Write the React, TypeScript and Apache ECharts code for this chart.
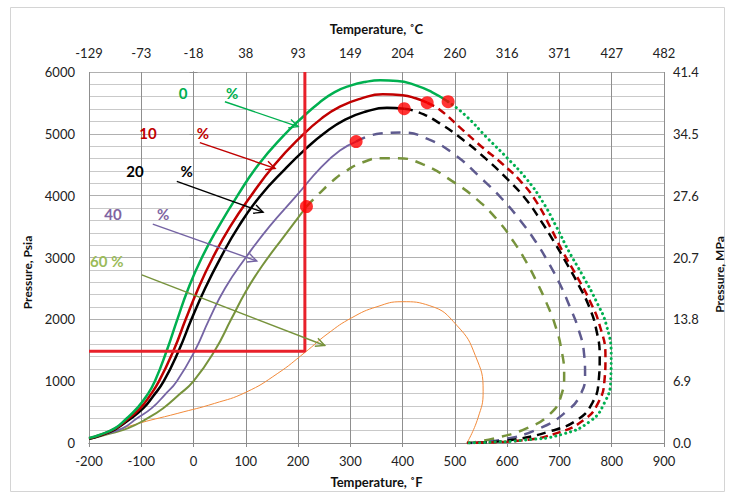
import React, { useEffect, useRef } from "react";
import * as echarts from "echarts";

// Top axis (°C) tick labels, matching the °F ticks -200..900
const celsiusTicks = ["-129", "-73", "-18", "38", "93", "149", "204", "260", "316", "371", "427", "482"];

// 0 % curve
const c0Bubble = [
  [-200, 80], [-180, 130], [-150, 241], [-130, 380], [-108, 563], [-90, 760], [-74, 1000], [-51, 1500],
  [-31, 2000], [-10, 2500], [16, 3000], [48, 3500], [84, 4000], [124, 4500], [170, 4950], [210, 5280],
  [240, 5500], [270, 5675], [300, 5780], [330, 5842], [357, 5865], [390, 5855], [420, 5800], [455, 5680],
  [487, 5519],
];
const c0Dew = [
  [487, 5519], [520, 5300], [560, 4950], [600, 4610], [637, 4270], [668, 3900], [694, 3500], [718, 3100],
  [745, 2700], [770, 2300], [790, 1900], [799, 1400], [798, 1000], [786, 650], [760, 360], [705, 140],
  [630, 45], [560, 10], [523, 0],
];
// 10 % curve
const c10Bubble = [
  [-200, 75], [-180, 125], [-150, 232], [-128, 370], [-102, 563], [-84, 760], [-66, 1000], [-38, 1500],
  [-15, 2000], [9, 2500], [37, 3000], [70, 3500], [110, 4000], [155, 4500], [205, 4950], [245, 5250],
  [280, 5440], [320, 5570], [362, 5640], [400, 5625], [425, 5575], [447, 5503],
];
const c10Dew = [
  [447, 5503], [471, 5390], [510, 5100], [550, 4800], [590, 4520], [627, 4220], [656, 3900], [682, 3500],
  [706, 3100], [733, 2700], [758, 2300], [777, 1900], [788, 1400], [786, 1000], [774, 650], [748, 380],
  [695, 160], [620, 35], [560, 8], [523, 0],
];
// 20 % curve
const c20Bubble = [
  [-200, 70], [-180, 118], [-150, 222], [-126, 360], [-96, 563], [-77, 760], [-57, 1000], [-28, 1500],
  [-4, 2000], [22, 2500], [52, 3000], [86, 3500], [128, 4000], [175, 4430], [215, 4760], [250, 5010],
  [290, 5230], [330, 5360], [370, 5420], [403, 5406],
];
const c20Dew = [
  [403, 5406], [430, 5350], [471, 5170], [516, 4900], [560, 4590], [600, 4270], [635, 3950], [664, 3600],
  [690, 3250], [714, 2900], [737, 2550], [757, 2200], [770, 1850], [777, 1400], [775, 1000], [763, 650],
  [735, 380], [682, 190], [605, 45], [550, 8], [523, 0],
];
// 40 % curve
const c40Bubble = [
  [-200, 65], [-170, 140], [-135, 241], [-108, 400], [-80, 563], [-55, 780], [-32, 1000], [3, 1500],
  [30, 2000], [60, 2500], [100, 3000], [145, 3500], [197, 4000], [243, 4450], [280, 4730], [311, 4875],
];
const c40Dew = [
  [311, 4875], [357, 5004], [399, 5020], [450, 4910], [500, 4660], [548, 4300], [590, 3950], [625, 3600],
  [655, 3250], [680, 2900], [702, 2550], [720, 2200], [736, 1850], [747, 1450], [749, 1100], [740, 780],
  [714, 515], [663, 241], [586, 48], [523, 0],
];
// 60 % curve
const c60Bubble = [
  [-200, 60], [-165, 140], [-125, 241], [-90, 390], [-58, 563], [-28, 780], [0, 1000], [41, 1500],
  [72, 2000], [100, 2450], [130, 2850], [172, 3330], [216, 3824],
];
const c60Dew = [
  [216, 3824], [240, 4030], [265, 4230], [290, 4390], [324, 4540], [360, 4605], [390, 4605], [439, 4505],
  [494, 4240], [542, 3940], [582, 3600], [612, 3260], [637, 2920], [658, 2580], [676, 2250], [692, 1900],
  [704, 1500], [709, 1100], [703, 760], [682, 470], [638, 241], [573, 70], [523, 0],
];
// thin orange envelope
const orangeEnvelope = [
  [-200, 55], [-116, 290], [-30, 480], [40, 640], [100, 820], [160, 1120], [213, 1464], [257, 1770],
  [303, 2027], [351, 2204], [399, 2285], [452, 2220], [504, 1899], [539, 1416], [554, 837], [544, 402],
  [523, 0],
];
// red guide lines and critical points
const redGuide = [[-200, 1485], [213, 1485], [213, 6000]];
const criticalPoints = [[487, 5519], [447, 5503], [403, 5406], [311, 4875], [216, 3824]];

// annotation arrows: [x1, y1, x2, y2]
const arrows = [
  [60, 5519, 200, 5117],
  [12, 4859, 156, 4441],
  [-32, 4232, 133, 3733],
  [-78, 3540, 121, 2944],
  [-99, 2719, 251, 1577],
];
const labelTexts = ["0", "10", "20", "40", "60 %"];
const labelX = [-20, -87, -112, -154, -166];
const labelY = [5664, 5020, 4393, 3701, 2944];
const pctX = [74, 18, -13, -58, null];

const GREEN = "#00b050";
const RED = "#c00000";
const BLACK = "#000000";
const PURPLE = "#7564a4";
const PURPLE_D = "#5e5a8e";
const OLIVE = "#77933c";
const arrowColors = [GREEN, RED, BLACK, PURPLE, OLIVE];
const labelColors = [GREEN, RED, BLACK, "#8064a2", "#9bbb59"];

const FONT = "Lato";

function lineSeries(data: number[][], color: string, width: number, type: any, smooth = 0.5) {
  return {
    type: "line",
    data,
    symbol: "none",
    smooth,
    z: 2,
    lineStyle: { color, width, type, cap: Array.isArray(type) && type[0] < 2 ? "round" : "butt" },
  };
}

export default function App() {
  const ref = useRef<HTMLDivElement>(null);
  useEffect(() => {
    const chart = echarts.init(ref.current!, null, { renderer: "svg" });
    const option: any = {
      animation: false,
      backgroundColor: "#ffffff",
      textStyle: { fontFamily: FONT },
      grid: { left: 89, right: 69, top: 72, bottom: 48 },
      graphic: [
        {
          type: "rect",
          left: 8,
          top: 5,
          shape: { x: 0, y: 0, width: 714, height: 484 },
          style: { fill: "none", stroke: "#d4d4d4", lineWidth: 1 },
          silent: true,
        },
      ],
      xAxis: [
        {
          type: "value",
          position: "bottom",
          min: -200,
          max: 900,
          interval: 100,
          axisLine: { show: true, lineStyle: { color: "#8c8c8c" } },
          axisTick: { show: true, length: 4, lineStyle: { color: "#8c8c8c" } },
          axisLabel: { fontSize: 13, color: "#222", margin: 11, fontFamily: FONT, formatter: (v: number) => String(v) },
          splitLine: { show: true, lineStyle: { color: "#8f8f8f", width: 1 } },
          name: "Temperature, ˚F",
          nameLocation: "middle",
          nameGap: 32,
          nameTextStyle: { fontWeight: "bold", fontSize: 13, color: "#111", fontFamily: FONT },
        },
        {
          type: "value",
          position: "top",
          min: -200,
          max: 900,
          interval: 100,
          axisLine: { show: true, lineStyle: { color: "#8c8c8c" } },
          axisTick: { show: false },
          axisLabel: {
            fontSize: 13,
            color: "#222",
            margin: 13,
            fontFamily: FONT,
            formatter: (v: number) => celsiusTicks[Math.round((v + 200) / 100)] ?? "",
          },
          splitLine: { show: false },
          name: "Temperature, ˚C",
          nameLocation: "middle",
          nameGap: 37,
          nameTextStyle: { fontWeight: "bold", fontSize: 13, color: "#111", fontFamily: FONT },
        },
      ],
      yAxis: [
        {
          type: "value",
          position: "left",
          min: 0,
          max: 6000,
          interval: 1000,
          axisLine: { show: true, lineStyle: { color: "#8c8c8c" } },
          axisTick: { show: true, length: 4, lineStyle: { color: "#8c8c8c" } },
          axisLabel: { fontSize: 13, color: "#222", margin: 14, fontFamily: FONT, formatter: (v: number) => String(v) },
          splitLine: { show: true, lineStyle: { color: "#b0b0b0", width: 1 } },
          minorTick: { show: false, splitNumber: 5 },
          minorSplitLine: { show: true, lineStyle: { color: "#c9c9c9", width: 1 } },
          name: "Pressure, Psia",
          nameLocation: "middle",
          nameGap: 53,
          nameTextStyle: { fontWeight: "bold", fontSize: 12, color: "#111", fontFamily: FONT, padding: [0, 30, 0, 0] },
        },
        {
          type: "value",
          position: "right",
          min: 0,
          max: 41.4,
          interval: 6.9,
          axisLine: { show: true, lineStyle: { color: "#8c8c8c" } },
          axisTick: { show: true, length: 4, lineStyle: { color: "#8c8c8c" } },
          axisLabel: {
            fontSize: 13,
            color: "#222",
            margin: 9,
            fontFamily: FONT,
            formatter: (v: number) => v.toFixed(1),
          },
          splitLine: { show: false },
          name: "Pressure, MPa",
          nameLocation: "middle",
          nameGap: 49,
          nameRotate: 90,
          nameTextStyle: { fontWeight: "bold", fontSize: 12, color: "#111", fontFamily: FONT, padding: [0, 34, 0, 0] },
        },
      ],
      series: [
        lineSeries(orangeEnvelope, "#f28a3a", 1, "solid"),
        lineSeries(c60Bubble, OLIVE, 2, "solid"),
        lineSeries(c60Dew, OLIVE, 2.5, [10, 8]),
        lineSeries(c40Bubble, PURPLE, 1.8, "solid"),
        lineSeries(c40Dew, PURPLE_D, 2.5, [10, 8]),
        lineSeries(c20Bubble, BLACK, 2.5, "solid"),
        lineSeries(c20Dew, BLACK, 2.5, [9, 6]),
        lineSeries(c10Bubble, RED, 2.5, "solid"),
        lineSeries(c10Dew, RED, 2.5, [8, 5]),
        lineSeries(c0Bubble, GREEN, 2.5, "solid"),
        lineSeries(c0Dew, GREEN, 3, [0.1, 5]),
        {
          type: "line",
          data: redGuide,
          symbol: "none",
          z: 3,
          lineStyle: { color: "#e8202a", width: 3 },
        },
        {
          type: "scatter",
          data: criticalPoints,
          symbol: "circle",
          symbolSize: 13,
          z: 4,
          itemStyle: { color: "#ff0000" },
        },
        {
          type: "custom",
          z: 5,
          data: arrows,
          encode: { x: [0, 2], y: [1, 3] },
          renderItem: (params: any, api: any) => {
            const i = params.dataIndex;
            const s = api.coord([api.value(0), api.value(1)]);
            const e = api.coord([api.value(2), api.value(3)]);
            const ang = Math.atan2(e[1] - s[1], e[0] - s[0]);
            const L = 10;
            const a = 0.45;
            const p1 = [e[0] - L * Math.cos(ang - a), e[1] - L * Math.sin(ang - a)];
            const p2 = [e[0] - L * Math.cos(ang + a), e[1] - L * Math.sin(ang + a)];
            const c = arrowColors[i];
            const children: any[] = [
              {
                type: "line",
                shape: { x1: s[0], y1: s[1], x2: e[0], y2: e[1] },
                style: { stroke: c, lineWidth: 1.4 },
              },
              {
                type: "polyline",
                shape: { points: [p1, e, p2] },
                style: { stroke: c, fill: null, lineWidth: 1.4 },
              },
            ];
            const n = api.coord([labelX[i], labelY[i]]);
            children.push({
              type: "text",
              x: n[0],
              y: n[1],
              style: {
                text: labelTexts[i],
                fill: labelColors[i],
                font: `bold 15px ${FONT}`,
                align: "center",
                verticalAlign: "middle",
              },
            });
            const px = pctX[i];
            if (px !== null) {
              const q = api.coord([px, labelY[i]]);
              children.push({
                type: "text",
                x: q[0],
                y: q[1],
                style: {
                  text: "%",
                  fill: labelColors[i],
                  font: `bold 15px ${FONT}`,
                  align: "center",
                  verticalAlign: "middle",
                },
              });
            }
            return { type: "group", children };
          },
        },
      ],
    };
    chart.setOption(option);
    return () => chart.dispose();
  }, []);
  return (
    <div
      ref={ref}
      style={{ position: "fixed", left: 0, top: 0, width: 733, height: 493, background: "#fff" }}
    />
  );
}
